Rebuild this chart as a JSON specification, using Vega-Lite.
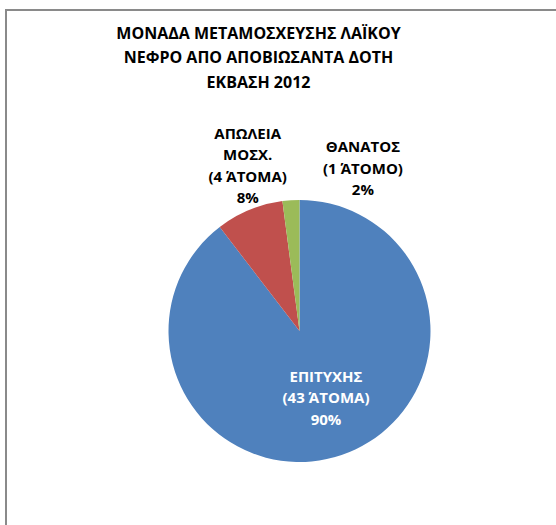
{
  "$schema": "https://vega.github.io/schema/vega-lite/v6.json",
  "width": 587,
  "height": 642,
  "padding": {"left": 5, "top": 9, "right": 0, "bottom": 0},
  "background": "white",
  "config": {"view": {"stroke": null}},
  "title": {
    "text": ["ΜΟΝΑΔΑ ΜΕΤΑΜΟΣΧΕΥΣΗΣ ΛΑΪΚΟΥ", "ΝΕΦΡΟ ΑΠΟ ΑΠΟΒΙΩΣΑΝΤΑ ΔΟΤΗ", "ΕΚΒΑΣΗ 2012"],
    "anchor": "middle",
    "frame": "group",
    "baseline": "top",
    "offset": -82,
    "dx": -41,
    "font": "Open Sans",
    "fontSize": 16,
    "fontWeight": "bold",
    "lineHeight": 24.7,
    "color": "#000000"
  },
  "data": {
    "values": [
      {"cat": "ΕΠΙΤΥΧΗΣ", "count": 43, "order": 1, "label": "ΕΠΙΤΥΧΗΣ\n(43 ΆΤΟΜΑ)\n90%"},
      {"cat": "ΑΠΩΛΕΙΑ ΜΟΣΧ.", "count": 4, "order": 2, "label": "ΑΠΩΛΕΙΑ\nΜΟΣΧ.\n(4 ΆΤΟΜΑ)\n8%"},
      {"cat": "ΘΑΝΑΤΟΣ", "count": 1, "order": 3, "label": "ΘΑΝΑΤΟΣ\n(1 ΆΤΟΜΟ)\n2%"}
    ]
  },
  "layer": [
    {
      "data": {"values": [{"frame": "border"}]},
      "mark": {"type": "rect", "fill": null, "fillOpacity": 0, "stroke": "#8a8a8a", "strokeWidth": 2},
      "encoding": {}
    },
    {
      "mark": {"type": "arc", "outerRadius": 131},
      "encoding": {
        "theta": {"field": "count", "type": "quantitative", "stack": true},
        "order": {"field": "order", "type": "quantitative"},
        "color": {
          "field": "cat",
          "type": "nominal",
          "scale": {"domain": ["ΕΠΙΤΥΧΗΣ", "ΑΠΩΛΕΙΑ ΜΟΣΧ.", "ΘΑΝΑΤΟΣ"], "range": ["#4F81BD", "#C0504D", "#9BBB59"]},
          "legend": null
        }
      }
    },
    {
      "mark": {"type": "text", "radius": 73, "dx": 3, "dy": -23, "font": "Open Sans", "fontSize": 15, "fontWeight": "bold", "lineBreak": "\n", "lineHeight": 21.3, "baseline": "middle", "align": "center", "color": "#ffffff"},
      "encoding": {
        "theta": {"field": "count", "type": "quantitative", "stack": true},
        "order": {"field": "order", "type": "quantitative"},
        "text": {"condition": {"test": "datum.cat === 'ΕΠΙΤΥΧΗΣ'", "field": "label"}, "value": ""}
      }
    },
    {
      "mark": {"type": "text", "radius": 172, "dx": 14, "dy": -38, "font": "Open Sans", "fontSize": 15, "fontWeight": "bold", "lineBreak": "\n", "lineHeight": 21.3, "baseline": "middle", "align": "center", "color": "#000000"},
      "encoding": {
        "theta": {"field": "count", "type": "quantitative", "stack": true},
        "order": {"field": "order", "type": "quantitative"},
        "text": {"condition": {"test": "datum.cat === 'ΑΠΩΛΕΙΑ ΜΟΣΧ.'", "field": "label"}, "value": ""}
      }
    },
    {
      "mark": {"type": "text", "radius": 162, "dx": 74, "dy": -22, "font": "Open Sans", "fontSize": 15, "fontWeight": "bold", "lineBreak": "\n", "lineHeight": 21.3, "baseline": "middle", "align": "center", "color": "#000000"},
      "encoding": {
        "theta": {"field": "count", "type": "quantitative", "stack": true},
        "order": {"field": "order", "type": "quantitative"},
        "text": {"condition": {"test": "datum.cat === 'ΘΑΝΑΤΟΣ'", "field": "label"}, "value": ""}
      }
    }
  ]
}
